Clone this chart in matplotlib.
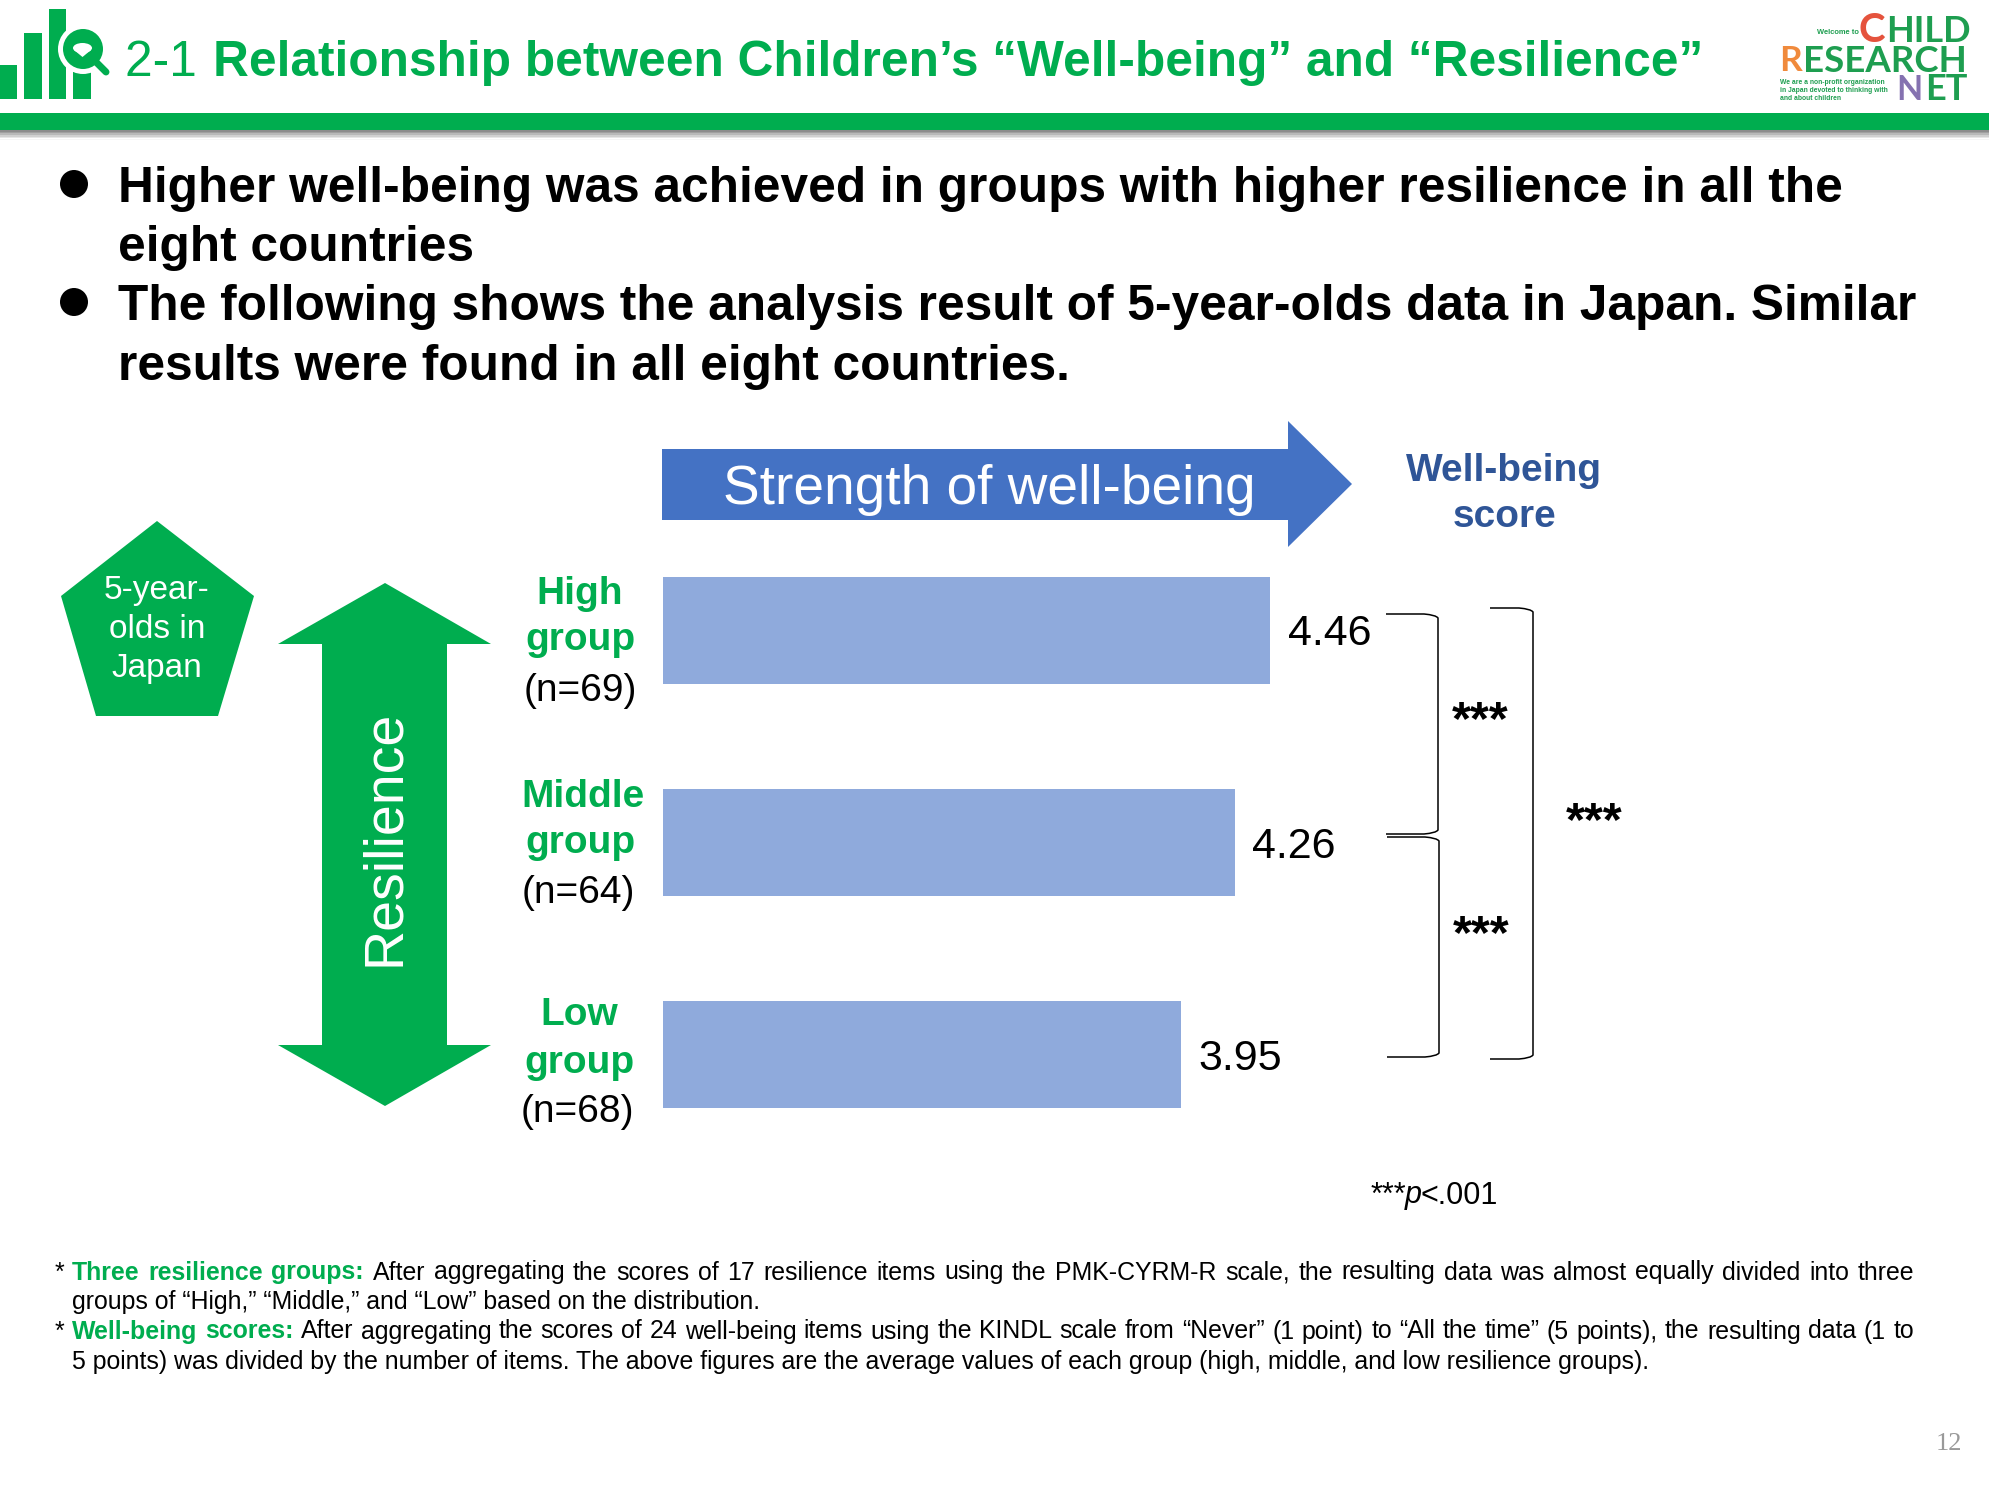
import matplotlib
matplotlib.use('Agg')
import matplotlib.pyplot as plt
from matplotlib.patches import Polygon, Rectangle, Circle, Ellipse, PathPatch
from matplotlib.path import Path

# Values
groups = ['High', 'Middle', 'Low']
group_sizes = [69, 64, 68]
scores = [4.46, 4.26, 3.95]
axis_start = 1
axis_end = 5

title_prefix = '2-1 '
title_main = 'Relationship between Children\u2019s \u201cWell-being\u201d and \u201cResilience\u201d'
bullet_lines = [
    'Higher well-being was achieved in groups with higher resilience in all the',
    'eight countries',
    'The following shows the analysis result of 5-year-olds data in Japan. Similar',
    'results were found in all eight countries.',
]
footnote_lines = [
    ('* ', 'Three resilience groups:', ' After aggregating the scores of 17 resilience items using the PMK-CYRM-R scale, the resulting data was almost equally divided into three'),
    ('', '', 'groups of \u201cHigh,\u201d \u201cMiddle,\u201d and \u201cLow\u201d based on the distribution.'),
    ('* ', 'Well-being scores:', ' After aggregating the scores of 24 well-being items using the KINDL scale from \u201cNever\u201d (1 point) to \u201cAll the time\u201d (5 points), the resulting data (1 to'),
    ('', '', '5 points) was divided by the number of items. The above figures are the average values of each group (high, middle, and low resilience groups).'),
]

GREEN = '#00AD4F'
BLUE = '#4472C4'
BAR = '#8FAADC'
DARK_BLUE = '#2F5597'
LOGO = '#1E9E50'
W, H = 1990, 1485

plt.rcParams['font.family'] = ['Liberation Sans', 'DejaVu Sans']
fig = plt.figure(figsize=(W / 100, H / 100), dpi=100, facecolor='white')

# Overlay in pixel coordinates for the slide furniture
page = fig.add_axes([0, 0, 1, 1])
page.set_xlim(0, W)
page.set_ylim(H, 0)
page.axis('off')

# Bar chart on its own axes so the bars go through the scale
ax = fig.add_axes([663 / W, 1 - 1161 / H, 702 / W, 637 / H])
ax.barh(range(len(groups)), [s - axis_start for s in scores], left=axis_start, height=0.505, color=BAR)
ax.set_xlim(axis_start, axis_end)
ax.set_ylim(len(groups) - 0.5, -0.5)
ax.axis('off')
value_labels = ax.bar_label(ax.containers[0], labels=[f'{s:.2f}' for s in scores], padding=12.5,
                            fontsize=31, color='black')
for label in value_labels:
    label.xyann = (label.xyann[0], label.xyann[1] - 3)


def put_runs(x, y, runs, size, right=None):
    """Draw coloured text runs in a row, stretching word gaps up to right."""
    renderer = fig.canvas.get_renderer()
    pieces = []
    for text, color, weight in runs:
        for word in text.split(' '):
            if word:
                pieces.append((word, color, weight))
    artists = []
    total = 0
    for word, color, weight in pieces:
        t = page.text(x, y, word, fontsize=size, color=color, fontweight=weight,
                      va='center_baseline', ha='left')
        total += t.get_window_extent(renderer).width
        artists.append(t)
    space = (right - x - total) / (len(pieces) - 1)
    cur = x
    for t in artists:
        t.set_x(cur)
        cur += t.get_window_extent(renderer).width + space


# Header icon
for x0, x1, y0 in [(0, 17, 65), (24, 42, 33), (49, 66, 9), (73, 91, 72)]:
    page.add_patch(Rectangle((x0, y0), x1 - x0, 99 - y0, color=GREEN, lw=0))
page.add_patch(Circle((83, 49), 25, color='white', lw=0))
page.plot([96, 106], [62, 72], color=GREEN, lw=5, solid_capstyle='round')
page.add_patch(Circle((83, 49), 20, color=GREEN, lw=0))
page.add_patch(Ellipse((82.5, 48), 19, 10, color='white', lw=0))
page.add_patch(Polygon([(74, 50), (91, 50), (82.5, 57)], color='white', lw=0))

# Title
page.text(125, 63, title_prefix, fontsize=35.7, color=GREEN, va='center')
page.text(213, 63, title_main, fontsize=35.7, color=GREEN, fontweight='bold', va='center')

# Logo
page.text(1817, 33, 'Welcome to', fontsize=5.4, color=LOGO, fontweight='bold', va='center')
page.text(1859, 30, 'C', fontsize=29, family='Lato', color='#E5533D', fontweight='bold', va='center')
page.text(1886, 31, 'HILD', fontsize=26, family='Lato', color=LOGO, fontweight='bold', va='center')
page.text(1779, 61, 'R', fontsize=25.5, family='Lato', color='#F08A3C', fontweight='bold', va='center')
page.text(1803, 61, 'ESEARCH', fontsize=26.4, family='Lato', color=LOGO, fontweight='bold', va='center')
page.text(1780, 82, 'We are a non-profit organization', fontsize=4.9, color=LOGO, fontweight='bold', va='center')
page.text(1780, 90, 'in Japan devoted to thinking with', fontsize=4.9, color=LOGO, fontweight='bold', va='center')
page.text(1780, 98, 'and about children', fontsize=4.9, color=LOGO, fontweight='bold', va='center')
page.text(1896, 90, 'N', fontsize=24.5, family='Lato', color='#8572B0', fontweight='bold', va='center')
page.text(1925, 90, 'ET', fontsize=26, family='Lato', color=LOGO, fontweight='bold', va='center')

# Green band with soft shadow under it
for i, grey in enumerate(['#8c8c8c', '#a0a0a0', '#b8b8b8', '#d0d0d0', '#e6e6e6', '#f6f6f6']):
    page.add_patch(Rectangle((0, 130 + i * 1.7), W, 1.7, color=grey, lw=0))
page.add_patch(Rectangle((0, 113), W, 17, color=GREEN, lw=0))

# Bullets
page.add_patch(Circle((74, 184), 14, color='black', lw=0))
page.add_patch(Circle((74, 302), 14, color='black', lw=0))
for line, y in zip(bullet_lines, [189, 248, 307, 367]):
    page.text(118, y, line, fontsize=35.75, fontweight='bold', color='black', va='center')

# Strength arrow
page.add_patch(Polygon([(662, 449), (1288, 449), (1288, 421), (1352, 484), (1288, 547),
                        (1288, 520), (662, 520)], color=BLUE, lw=0))
page.text(989, 490, 'Strength of well-being', fontsize=39.6, color='white', ha='center', va='center')
page.text(1504, 471, 'Well-being', fontsize=28, fontweight='bold', color=DARK_BLUE, ha='center', va='center')
page.text(1505, 517, 'score', fontsize=28, fontweight='bold', color=DARK_BLUE, ha='center', va='center')

# Pentagon
page.add_patch(Polygon([(157, 521), (254, 596), (218, 716), (96, 716), (61, 596)], color=GREEN, lw=0))
for line, y in zip(['5-year-', 'olds in', 'Japan'], [590, 629, 669]):
    page.text(157, y, line, fontsize=24, color='white', ha='center', va='center')

# Resilience double arrow
page.add_patch(Polygon([(385, 583), (491, 644), (447, 644), (447, 1045), (491, 1045), (385, 1106),
                        (278, 1045), (322, 1045), (322, 644), (278, 644)], color=GREEN, lw=0))
page.text(385, 838, 'Resilience', fontsize=40, color='white', rotation=90, ha='center', va='center')

# Group labels
head_x = [580, 583, 579]
word_x = [580, 580, 579]
n_x = [580, 578, 577]
label_y = [(594, 640, 691), (797, 843, 893), (1015, 1063, 1112)]
for g, n, hx, wx, nx, ys in zip(groups, group_sizes, head_x, word_x, n_x, label_y):
    page.text(hx, ys[0], g, fontsize=28, fontweight='bold', color=GREEN, ha='center', va='center')
    page.text(wx, ys[1], 'group', fontsize=28, fontweight='bold', color=GREEN, ha='center', va='center')
    page.text(nx, ys[2], f'(n={n})', fontsize=28, color='black', ha='center', va='center')


# Braces
def brace(x0, x1, y0, y1):
    verts = [(x0, y0), (x1 - 14, y0), (x1 - 2, y0 + 1), (x1, y0 + 4), (x1, y1 - 4),
             (x1 - 2, y1 - 1), (x1 - 14, y1), (x0, y1)]
    codes = [Path.MOVETO, Path.LINETO, Path.CURVE3, Path.CURVE3, Path.LINETO,
             Path.CURVE3, Path.CURVE3, Path.LINETO]
    page.add_patch(PathPatch(Path(verts, codes), fill=False, edgecolor='black', lw=1.1))


brace(1386, 1438, 614, 834)
brace(1387, 1439, 837, 1057)
brace(1490, 1533, 608, 1059)
for x, y in [(1480, 722), (1481, 936), (1594, 823)]:
    page.text(x, y, '***', fontsize=35, fontweight='bold', color='black', ha='center', va='center')

# Significance note
page.text(1371, 1192, '***', fontsize=22, color='black', va='center_baseline')
page.text(1405, 1192, 'p', fontsize=22, style='italic', color='black', va='center_baseline')
page.text(1421, 1192, '<.001', fontsize=22, color='black', va='center_baseline')

# Footnotes
note_y = [1270, 1299, 1329, 1359]
for (star, head, body), y in zip(footnote_lines, note_y):
    if star:
        page.text(55, y, '*', fontsize=17.9, color='black', va='center_baseline')
        put_runs(72, y, [(head, GREEN, 'bold'), (body, 'black', 'normal')], 17.9, right=1914)
    else:
        page.text(72, y, body, fontsize=17.9, color='black', va='center_baseline')

# Page number
page.text(1949, 1444, '12', fontsize=19, family='Liberation Serif', color='#999999', ha='center', va='center')

fig.savefig('out.png', dpi=100, facecolor='white')
